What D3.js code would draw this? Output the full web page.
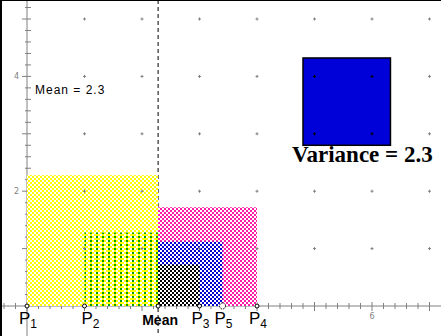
<!DOCTYPE html>
<html>
<head>
<meta charset="utf-8">
<script src="https://cdn.jsdelivr.net/npm/d3@7"></script>
<style>
  body { margin: 0; background: #fff; }
  svg { display: block; }
</style>
</head>
<body>
<script>
// data points on the number line
const pointNames = ["P1", "P2", "P3", "P4", "P5"];
const pointValues = [0, 1, 3, 4, 3.4];
const xTickLabels = [6];
const yTickLabels = [2, 4];

// styles
const fillColor = { P1: "#ffff00", P2: "#00a000", P3: "#000000", P4: "#ff1aa8", P5: "#0000d0" };
const labelNudge = { P2: 5 };

const W = 441, H = 336;

const x = d3.scaleLinear().domain([0, 7]).range([27, 429.5]);
const y = d3.scaleLinear().domain([0, 5]).range([306, 19]);

const mean = d3.mean(pointValues);
const variance = d3.mean(pointValues, v => (v - mean) * (v - mean));
const fmt = d3.format(".1f");

const svg = d3.select("body").append("svg")
  .attr("width", W)
  .attr("height", H);

// fill patterns
const defs = svg.append("defs");
function checker(id, color) {
  const p = defs.append("pattern")
    .attr("id", id)
    .attr("patternUnits", "userSpaceOnUse")
    .attr("width", 4).attr("height", 4);
  p.append("rect").attr("width", 4).attr("height", 4).attr("fill", "#fff");
  p.append("rect").attr("width", 2).attr("height", 2).attr("fill", color);
  p.append("rect").attr("x", 2).attr("y", 2).attr("width", 2).attr("height", 2).attr("fill", color);
}
["P1", "P3", "P4", "P5"].forEach(n => checker("pat" + n, fillColor[n]));

// green one: see-through dashed vertical stripes
const gp = defs.append("pattern")
  .attr("id", "patP2")
  .attr("patternUnits", "userSpaceOnUse")
  .attr("width", 6).attr("height", 4);
gp.append("rect").attr("x", 0).attr("width", 2).attr("height", 2).attr("fill", fillColor.P2);
gp.append("rect").attr("x", 0).attr("y", 2).attr("width", 2).attr("height", 2).attr("fill", "#ffff00");

// frame
svg.append("rect").attr("width", W).attr("height", H).attr("fill", "#fff");

// axes
const axisColor = "#808080";
svg.append("line")
  .attr("x1", 0).attr("x2", W)
  .attr("y1", y(0)).attr("y2", y(0))
  .attr("stroke", axisColor);
svg.append("line")
  .attr("x1", x(0)).attr("x2", x(0))
  .attr("y1", 0).attr("y2", H)
  .attr("stroke", axisColor);

// ticks every 0.2
const xMinor = d3.range(-2, 36).map(i => i / 5);
svg.append("g").selectAll("line")
  .data(xMinor)
  .enter().append("line")
  .attr("x1", d => x(d)).attr("x2", d => x(d))
  .attr("y1", d => y(0) - (Math.abs(d % 1) < 1e-6 ? 4 : 3))
  .attr("y2", d => y(0) + (Math.abs(d % 1) < 1e-6 ? 5 : 3))
  .attr("stroke", axisColor);

const yMinor = d3.range(1, 27).map(i => i / 5);
svg.append("g").selectAll("line")
  .data(yMinor)
  .enter().append("line")
  .attr("x1", d => x(0) - (Math.abs(d % 1) < 1e-6 ? 5 : 2))
  .attr("x2", d => x(0) + 4)
  .attr("y1", d => y(d)).attr("y2", d => y(d))
  .attr("stroke", axisColor);

// tick labels
svg.append("g").selectAll("text")
  .data(yTickLabels)
  .enter().append("text")
  .attr("x", x(0) - 8)
  .attr("y", d => y(d) + 3)
  .attr("text-anchor", "end")
  .attr("font-family", "DejaVu Sans, sans-serif")
  .attr("font-size", 8)
  .attr("fill", axisColor)
  .text(d => d);

svg.append("g").selectAll("text")
  .data(xTickLabels)
  .enter().append("text")
  .attr("x", d => x(d))
  .attr("y", y(0) + 13)
  .attr("text-anchor", "middle")
  .attr("font-family", "DejaVu Sans, sans-serif")
  .attr("font-size", 8)
  .attr("fill", axisColor)
  .text(d => d);

// dashed mean line
svg.append("line")
  .attr("x1", x(mean)).attr("x2", x(mean))
  .attr("y1", 0).attr("y2", H)
  .attr("stroke", "#000")
  .attr("stroke-dasharray", "4,3");

// squares of deviations, biggest first
const squares = pointNames.map((n, i) => ({ name: n, value: pointValues[i], dev: Math.abs(pointValues[i] - mean) }))
  .sort((a, b) => b.dev - a.dev);

svg.append("g").selectAll("rect")
  .data(squares)
  .enter().append("rect")
  .attr("x", d => x(Math.min(d.value, mean)))
  .attr("width", d => x(Math.max(d.value, mean)) - x(Math.min(d.value, mean)))
  .attr("y", d => y(d.dev))
  .attr("height", d => y(0) - y(d.dev))
  .attr("fill", d => "url(#pat" + d.name + ")");

// variance square
const side = Math.sqrt(variance);
const vx = 4.8, vy = 2.8;
svg.append("rect")
  .attr("x", x(vx))
  .attr("y", y(vy + side))
  .attr("width", x(vx + side) - x(vx))
  .attr("height", y(vy) - y(vy + side))
  .attr("fill", "#0000d8")
  .attr("stroke", "#000")
  .attr("stroke-width", 1.5);

// grid marks
const grid = [];
d3.range(1, 8).forEach(i => d3.range(1, 6).forEach(j => grid.push([i, j])));
const gridG = svg.append("g");
grid.forEach(([gx, gy]) => {
  const inside = gx > vx && gx < vx + side && gy > vy && gy < vy + side;
  const c = inside ? "#000" : axisColor;
  gridG.append("line")
    .attr("x1", x(gx) - 1.5).attr("x2", x(gx) + 1.5)
    .attr("y1", y(gy)).attr("y2", y(gy))
    .attr("stroke", c);
  gridG.append("line")
    .attr("x1", x(gx)).attr("x2", x(gx))
    .attr("y1", y(gy) - 1.5).attr("y2", y(gy) + 1.5)
    .attr("stroke", c);
});

svg.append("text")
  .attr("x", 292)
  .attr("y", 162)
  .attr("font-family", "Liberation Serif, Times New Roman, serif")
  .attr("font-weight", "bold")
  .attr("font-size", 23)
  .text("Variance = " + fmt(variance));

svg.append("text")
  .attr("x", 35)
  .attr("y", 94)
  .attr("font-family", "Liberation Sans, Arial, sans-serif")
  .attr("font-size", 12)
  .attr("letter-spacing", 1)
  .text("Mean = " + fmt(mean));

// point markers
const marks = pointValues.concat([mean]);
svg.append("g").selectAll("circle")
  .data(marks)
  .enter().append("circle")
  .attr("cx", d => x(d))
  .attr("cy", y(0))
  .attr("r", (d, i) => i === 4 ? 3 : 2)
  .attr("fill", "#fff")
  .attr("stroke", "#000")
  .attr("stroke-dasharray", (d, i) => i === 4 ? "1.5,1" : null);

// point labels
const labels = svg.append("g")
  .attr("font-family", "Liberation Sans, Arial, sans-serif");
pointNames.forEach((n, i) => {
  const t = labels.append("text")
    .attr("x", x(pointValues[i]) - 8 + (labelNudge[n] || 0))
    .attr("y", 324)
    .attr("font-size", 17);
  t.append("tspan").text(n[0]);
  t.append("tspan").attr("font-size", 12).attr("dy", 4).text(n.slice(1));
});

svg.append("text")
  .attr("x", x(mean) + 2)
  .attr("y", 325)
  .attr("text-anchor", "middle")
  .attr("font-family", "Liberation Sans, Arial, sans-serif")
  .attr("font-weight", "bold")
  .attr("font-size", 14)
  .text("Mean");

// black frame on left and top
svg.append("line").attr("x1", 1).attr("x2", 1).attr("y1", 0).attr("y2", H)
  .attr("stroke", "#000").attr("stroke-width", 2);
svg.append("line").attr("x1", 0).attr("x2", W).attr("y1", 0.5).attr("y2", 0.5)
  .attr("stroke", "#000");
</script>
</body>
</html>
